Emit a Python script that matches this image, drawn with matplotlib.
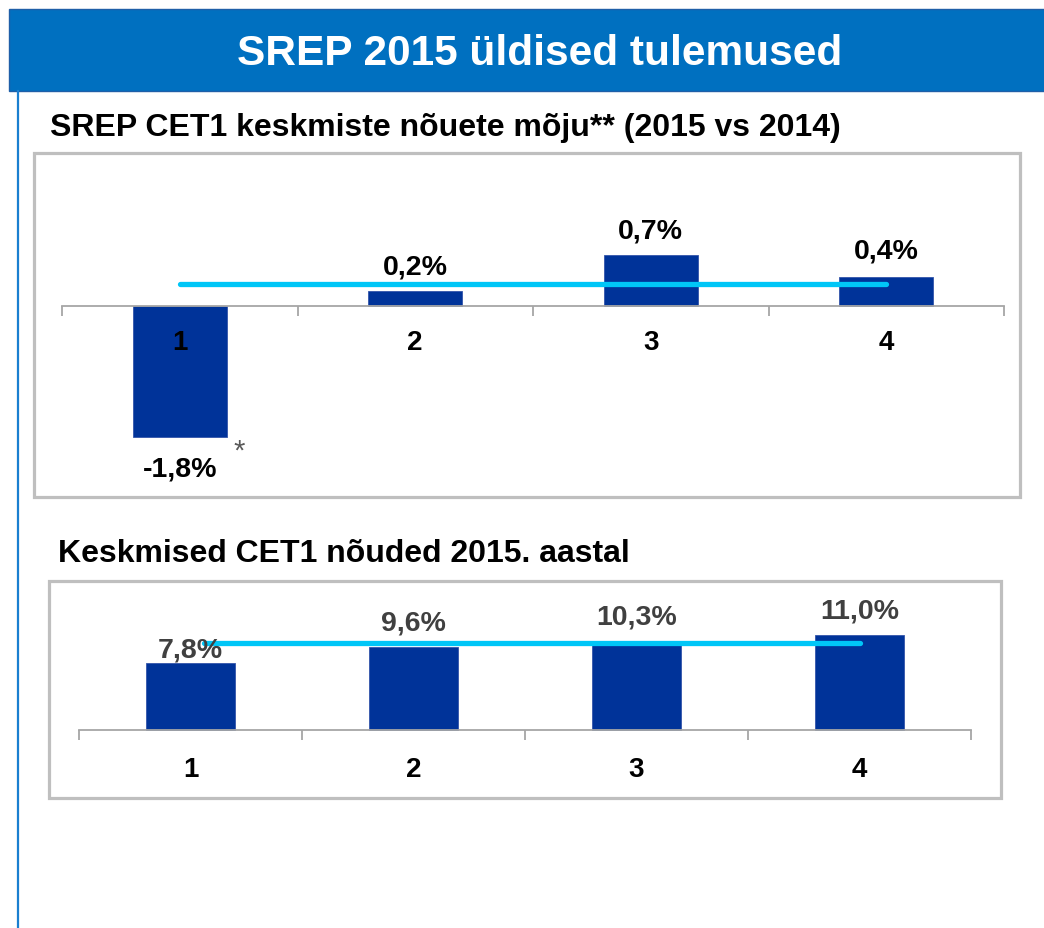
import matplotlib
matplotlib.use("Agg")
import matplotlib.pyplot as plt
from matplotlib.patches import Rectangle

plt.rcParams['font.family'] = ['Liberation Sans', 'DejaVu Sans']

W, H = 1044, 929

# data
categories = ['1', '2', '3', '4']
impact = [-1.8, 0.2, 0.7, 0.4]
impact_labels = ['-1,8%', '0,2%', '0,7%', '0,4%']
impact_avg = 0.30
req = [7.8, 9.6, 10.3, 11.0]
req_labels = ['7,8%', '9,6%', '10,3%', '11,0%']
req_avg = 10.1

BAR = '#003399'
CYAN = '#00C6F7'
HEADER = '#0070C0'
BOX = '#BFBFBF'


def px(x, y):
    # pixel (from top-left) -> figure fraction
    return x / W, 1 - y / H


def ax_at(x0, y0, x1, y1):
    l, t = px(x0, y0)
    r, b = px(x1, y1)
    return fig.add_axes([l, b, r - l, t - b], zorder=3)


def bar_panel(ax, vals, labels, avg, ylim, lblcolor, offs, cat_off, line_start=0.0):
    xs = range(len(vals))
    ax.bar(xs, vals, width=0.40, color=BAR, edgecolor='#3355aa', linewidth=0.6, zorder=2)
    ax.plot([line_start, len(vals) - 1], [avg, avg], color=CYAN, lw=3.8,
            solid_capstyle='round', zorder=3)
    ax.set_xlim(-0.5, len(vals) - 0.5)
    ax.set_ylim(*ylim)
    for s in ['top', 'left', 'right']:
        ax.spines[s].set_visible(False)
    ax.spines['bottom'].set_position(('data', 0))
    ax.spines['bottom'].set_color('#A6A6A6')
    ax.spines['bottom'].set_linewidth(1.3)
    ax.set_yticks([])
    ax.set_xticks([])
    ax.set_xticks([i - 0.5 for i in range(len(vals) + 1)], minor=True)
    ax.tick_params(axis='x', which='minor', direction='out', length=7,
                   width=1.3, color='#A6A6A6')
    ax.patch.set_alpha(0)
    for i, (v, t) in enumerate(zip(vals, labels)):
        ax.annotate(t, (i, v), xytext=(0, offs[i]), textcoords='offset points',
                    ha='center', va='center', fontsize=20.5, fontweight='bold',
                    color=lblcolor, zorder=4)
        ax.annotate(categories[i], (i, 0), xytext=(0, cat_off), textcoords='offset points',
                    ha='center', va='center', fontsize=20, fontweight='bold',
                    color='black', zorder=4)


fig = plt.figure(figsize=(W / 100, H / 100), dpi=100)

# header band
l, t = px(9, 10)
r, b = px(1046, 92)
fig.patches.append(Rectangle((l, b), r - l, t - b, transform=fig.transFigure,
                             facecolor=HEADER, edgecolor='#1F5FA8', lw=1.0, zorder=0))
fig.text(*px(540, 54), 'SREP 2015 üldised tulemused', color='white',
         fontsize=30.5, fontweight='bold', ha='center', va='center')
# left page rule
fig.add_artist(plt.Line2D([17.5 / W, 17.5 / W], [1 - 92 / H, 0], transform=fig.transFigure,
                          color='#1A7FD0', lw=1.6))

# boxes
for (x0, y0, x1, y1) in [(34, 154, 1020, 498), (49, 582, 1001, 799)]:
    l, t = px(x0, y0)
    r, b = px(x1, y1)
    fig.patches.append(Rectangle((l, b), r - l, t - b, transform=fig.transFigure,
                                 facecolor='none', edgecolor=BOX, lw=2.3, zorder=0))

fig.text(*px(50, 128), 'SREP CET1 keskmiste nõuete mõju** (2015 vs 2014)',
         fontsize=23, fontweight='bold', ha='left', va='center', color='black')
fig.text(*px(58, 554), 'Keskmised CET1 nõuded 2015. aastal',
         fontsize=23, fontweight='bold', ha='left', va='center', color='black')

# panel 1
ax1 = ax_at(62, 160, 1004, 495)
bar_panel(ax1, impact, impact_labels, impact_avg, (-2.587, 2.015), 'black',
          [-23.0, 18.0, 17.6, 18.8], -26.0)
ax1.annotate('*', (0.2, impact[0]), xytext=(9, -10), textcoords='offset points',
             ha='center', va='center', fontsize=21, color='#595959')

# panel 2
ax2 = ax_at(79, 585, 971, 795)
bar_panel(ax2, req, req_labels, req_avg, (-7.36, 16.91), '#404040',
          [9.8, 17.5, 17.5, 18.0], -27.5, line_start=0.06)

fig.savefig('out.png', dpi=100)
